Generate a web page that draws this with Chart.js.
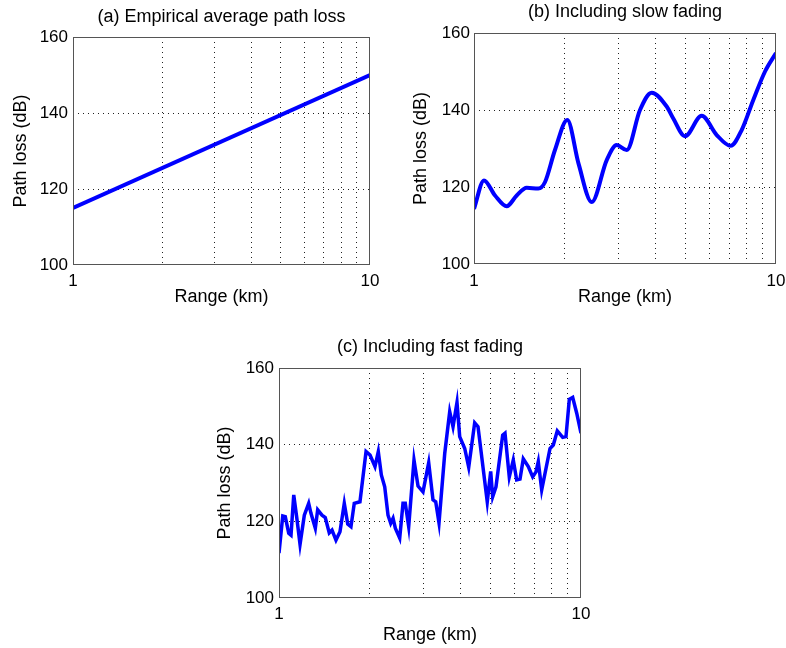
<!DOCTYPE html>
<html lang="en">
<head>
  <meta charset="UTF-8">
  <title>Path loss vs range</title>
  <script src="https://cdn.jsdelivr.net/npm/chart.js"></script>
  <style>
    body {
      margin: 0;
      background: #fff;
      overflow: hidden;
    }

    .sheet {
      position: relative;
      width: 786px;
      height: 648px;
      overflow: hidden;
    }

    .sheet canvas {
      position: absolute;
    }
  </style>
</head>
<body>

  <div class="sheet">
    <canvas id="chartA" width="393" height="310" style="left:0;top:0"></canvas>
    <canvas id="chartB" width="420" height="310" style="left:393px;top:0"></canvas>
    <canvas id="chartC" width="400" height="338" style="left:210px;top:310px"></canvas>
  </div>

  <script>
    // axis ticks shared by all three panels
    const xTicks = [1, 2, 3, 4, 5, 6, 7, 8, 9, 10];
    const xLabelled = [1, 10];
    const yTicks = [100, 120, 140, 160];

    // (a) empirical average path loss
    const rangeA = [1, 10];
    const lossA = [115, 150];

    // (b) with slow fading
    const rangeB = [1, 1.079, 1.174, 1.283, 1.385, 1.495, 1.633, 1.719, 1.854, 2.037,
      2.22, 2.454, 2.751, 2.969, 3.204, 3.545, 3.876, 4.346, 4.57, 4.998,
      5.675, 6.363, 7.079, 7.698, 8.41, 9.197, 10];
    const lossB = [114.3, 121.7, 117.8, 115, 117.8, 119.8, 119.6, 121.3, 129.6, 137.4,
      126, 116.1, 127, 130.9, 129.6, 140, 144.5, 140.9, 137.8, 133.2,
      138.5, 133.5, 130.7, 134.8, 142.6, 150, 154.8];

    // (c) with fast fading
    const rangeC = [1.0, 1.029, 1.049, 1.077, 1.096, 1.119, 1.144, 1.174, 1.213, 1.254,
      1.276, 1.319, 1.343, 1.388, 1.423, 1.467, 1.498, 1.544, 1.592, 1.645,
      1.689, 1.731, 1.775, 1.854, 1.942, 2.002, 2.079, 2.132, 2.182, 2.239,
      2.296, 2.344, 2.386, 2.428, 2.51, 2.574, 2.619, 2.688, 2.799, 2.886,
      2.998, 3.131, 3.235, 3.303, 3.387, 3.538, 3.675, 3.769, 3.885, 3.966,
      4.121, 4.248, 4.446, 4.56, 4.893, 5.023, 5.1, 5.23, 5.504, 5.602,
      5.788, 5.967, 6.124, 6.281, 6.44, 6.69, 6.919, 7.095, 7.221, 7.411,
      7.895, 8.096, 8.346, 8.697, 8.918, 9.148, 9.387, 9.679, 10];
    const lossC = [111.7, 121.4, 121.2, 116.9, 116.4, 126.9, 121.2, 114, 121.6, 124.7,
      122.1, 118.2, 123, 121.6, 121, 117, 117.7, 115.1, 117.3, 124.7,
      119.3, 118.6, 124.7, 125.1, 138.2, 137.3, 134.3, 138.2, 132.1, 129,
      121.6, 119.5, 120.8, 118.2, 115.6, 124.7, 124.7, 118.6, 136, 129.2,
      127.7, 135.3, 125.6, 125.1, 119.6, 137.7, 148.6, 144.7, 151, 142.1,
      139, 134.1, 145.7, 144.7, 125.1, 133, 126.4, 129, 142.5, 143,
      131.6, 136, 130.8, 131, 136.3, 134.3, 131.6, 132.9, 135.6, 128.2,
      139, 139.9, 143.6, 141.9, 142.1, 151.8, 152.3, 148.2, 143];

    Chart.defaults.font.family = '"Liberation Sans", Arial, sans-serif';
    Chart.defaults.color = '#000';

    // axes box drawn round the plot area
    const frame = {
      id: 'frame',
      afterDatasetsDraw(chart) {
        const { ctx, chartArea: a } = chart;
        ctx.save();
        ctx.strokeStyle = '#555';
        ctx.lineWidth = 1;
        ctx.strokeRect(a.left + 0.5, a.top + 0.5, a.width - 1, a.height - 1);
        ctx.restore();
      }
    };

    // dotted grid, skipping the lines that sit on the box
    const gridColor = (edges) => (c) =>
      c.tick && edges.includes(c.tick.value) ? 'rgba(0,0,0,0)' : '#222';

    function makeChart(id, title, range, loss, p) {
      const points = range.map((x, i) => ({ x: x, y: loss[i] }));
      return new Chart(document.getElementById(id), {
        type: 'line',
        data: {
          datasets: [{
            data: points,
            borderColor: '#0000ff',
            borderWidth: p.lineWidth,
            pointRadius: 0,
            cubicInterpolationMode: p.smooth ? 'monotone' : 'default',
            tension: 0
          }]
        },
        options: {
          responsive: false,
          animation: false,
          events: [],
          layout: { padding: { left: 0, right: p.right, top: 0, bottom: 0 } },
          scales: {
            x: {
              type: 'logarithmic',
              min: 1,
              max: 10,
              afterBuildTicks: s => { s.ticks = xTicks.map(v => ({ value: v })); },
              afterFit: s => { s.height = p.xHeight; },
              ticks: {
                autoSkip: false,
                maxRotation: 0,
                padding: p.xTickPad,
                font: { size: 17 },
                callback: v => xLabelled.includes(v) ? String(v) : ''
              },
              grid: { color: gridColor([1, 10]), drawTicks: false, lineWidth: 1 },
              border: { display: false, dash: [1, 4] },
              title: {
                display: true,
                text: 'Range (km)',
                font: { size: 18 },
                padding: { top: 0, bottom: 2 }
              }
            },
            y: {
              type: 'linear',
              min: 100,
              max: 160,
              afterBuildTicks: s => { s.ticks = yTicks.map(v => ({ value: v })); },
              afterFit: s => { s.width = p.yWidth; },
              ticks: { padding: p.yTickPad, font: { size: 17 } },
              grid: { color: gridColor([100, 160]), drawTicks: false, lineWidth: 1 },
              border: { display: false, dash: [1, 4] },
              title: {
                display: true,
                text: 'Path loss (dB)',
                font: { size: 18 },
                padding: { top: p.yTitlePad, bottom: 0 }
              }
            }
          },
          plugins: {
            legend: { display: false },
            tooltip: { enabled: false },
            title: {
              display: true,
              text: title,
              fullSize: false,
              font: { size: 18, weight: 'normal' },
              padding: { top: p.titleTop, bottom: p.titleBottom }
            }
          }
        },
        plugins: [frame]
      });
    }

    makeChart('chartA', '(a) Empirical average path loss', rangeA, lossA, {
      lineWidth: 4, smooth: false, right: 23,
      xHeight: 45, xTickPad: 6.5, yWidth: 73, yTickPad: 5, yTitlePad: 10,
      titleTop: 6, titleBottom: 9.4
    });

    // canvas runs past the page edge so the "10" label can sit on the border
    makeChart('chartB', '(b) Including slow fading', rangeB, lossB, {
      lineWidth: 4, smooth: true, right: 37,
      xHeight: 46, xTickPad: 7.5, yWidth: 81, yTickPad: 4, yTitlePad: 17.5,
      titleTop: 1.2, titleBottom: 10.2
    });

    makeChart('chartC', '(c) Including fast fading', rangeC, lossC, {
      lineWidth: 3.5, smooth: false, right: 29,
      xHeight: 50, xTickPad: 6, yWidth: 69, yTickPad: 5, yTitlePad: 4.5,
      titleTop: 26.2, titleBottom: 10.2
    });
  </script>

</body>
</html>
